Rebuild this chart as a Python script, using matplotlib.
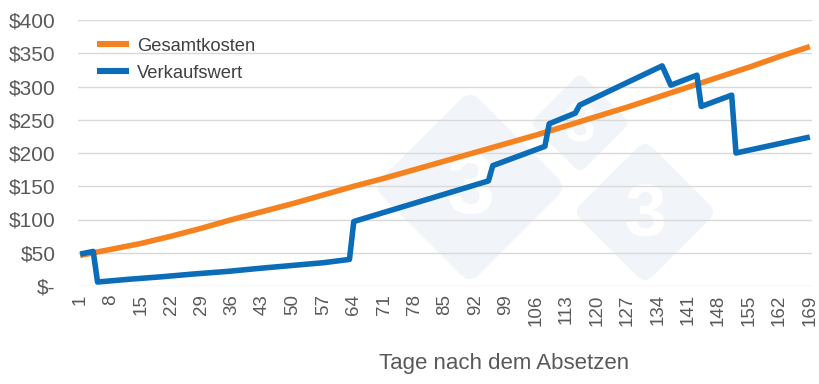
import matplotlib
matplotlib.use("Agg")
import matplotlib.pyplot as plt
from matplotlib.patches import FancyBboxPatch
from matplotlib.transforms import Affine2D
import numpy as np

plt.rcParams['font.family'] = ['Liberation Sans', 'DejaVu Sans']

# Gesamtkosten, read every 7 days
cost_days = [1, 8, 15, 22, 29, 36, 43, 50, 57, 64, 71, 78, 85, 92, 99, 106,
             113, 120, 127, 134, 141, 148, 155, 162, 169]
cost_vals = [46, 55, 64, 75, 87, 100, 112, 124, 137, 150, 162, 175, 188, 201,
             214, 227, 241, 255, 269, 284, 299, 314, 329, 345, 360]

# Verkaufswert, read at the break points
sale_days = [1, 4, 5, 12, 20, 27, 35, 43, 50, 57, 63, 64, 95, 96, 108, 109,
             115, 116, 135, 137, 143, 144, 151, 152, 169]
sale_vals = [48, 52, 6, 10, 14, 18, 22, 27, 31, 35, 40, 97, 158, 181, 210, 244,
             260, 272, 331, 302, 317, 270, 287, 200, 224]

tick_days = list(range(1, 170, 7))
y_ticks = [0, 50, 100, 150, 200, 250, 300, 350, 400]
y_labels = ['$-', '$50', '$100', '$150', '$200', '$250', '$300', '$350', '$400']

W, H = 820, 384
fig = plt.figure(figsize=(W / 100, H / 100), dpi=100)
ax = fig.add_axes([78 / W, 1 - 286 / H, 734 / W, 266 / H])


def px(x, y):
    # pixel position (from top-left) -> display coords
    return x, H - y


# faint "333" watermark: rotated rounded squares with a white 3
wm = '#f1f5f9'
for cx, cy, half, fs in [(580, 123, 50, 40), (470, 187, 97, 62), (645, 212, 72, 54)]:
    side = half * np.sqrt(2)
    x0, y0 = px(cx, cy)
    box = FancyBboxPatch((x0 - side / 2, y0 - side / 2), side, side,
                         boxstyle='round,pad=0,rounding_size=%f' % (side * 0.1),
                         facecolor=wm, edgecolor='none', zorder=0.2,
                         transform=Affine2D().rotate_deg_around(x0, y0, 45))
    ax.add_patch(box)
    ax.text(x0, y0 - 4, '3', transform=None, fontsize=fs, fontweight='bold',
            color='white', ha='center', va='center', zorder=0.3)

ax.plot(cost_days, cost_vals, color='#F5821F', lw=4.0, label='Gesamtkosten',
        solid_capstyle='butt', zorder=3)
ax.plot(sale_days, sale_vals, color='#0B6DB7', lw=4.0, label='Verkaufswert',
        solid_capstyle='butt', solid_joinstyle='round', zorder=3)

ax.set_xlim(0.5, 169.5)
ax.set_ylim(0, 400)
ax.set_yticks(y_ticks)
ax.set_yticklabels(y_labels)
ax.set_xticks(tick_days)
ax.set_xticklabels([str(d) for d in tick_days], rotation=90)
ax.tick_params(axis='both', length=0, colors='#595959')
ax.tick_params(axis='x', labelsize=13.5, pad=6)
ax.tick_params(axis='y', labelsize=15, pad=16)
ax.grid(axis='y', color='#d9d9d9', lw=1, zorder=0.5)
ax.set_axisbelow(True)
for s in ax.spines.values():
    s.set_visible(False)

ax.set_xlabel('Tage nach dem Absetzen', fontsize=16, color='#595959')
ax.xaxis.label.set_va('center')
ax.xaxis.set_label_coords(0.58, -0.29)

leg = ax.legend(loc='upper left', bbox_to_anchor=(0.026, 0.933), frameon=False,
                fontsize=13.2, handlelength=1.75, handletextpad=0.45,
                labelspacing=0.55, borderpad=0, borderaxespad=0)
for t in leg.get_texts():
    t.set_color('#404040')
for h in leg.get_lines():
    h.set_linewidth(4.4)

fig.savefig('out.png', dpi=100)
